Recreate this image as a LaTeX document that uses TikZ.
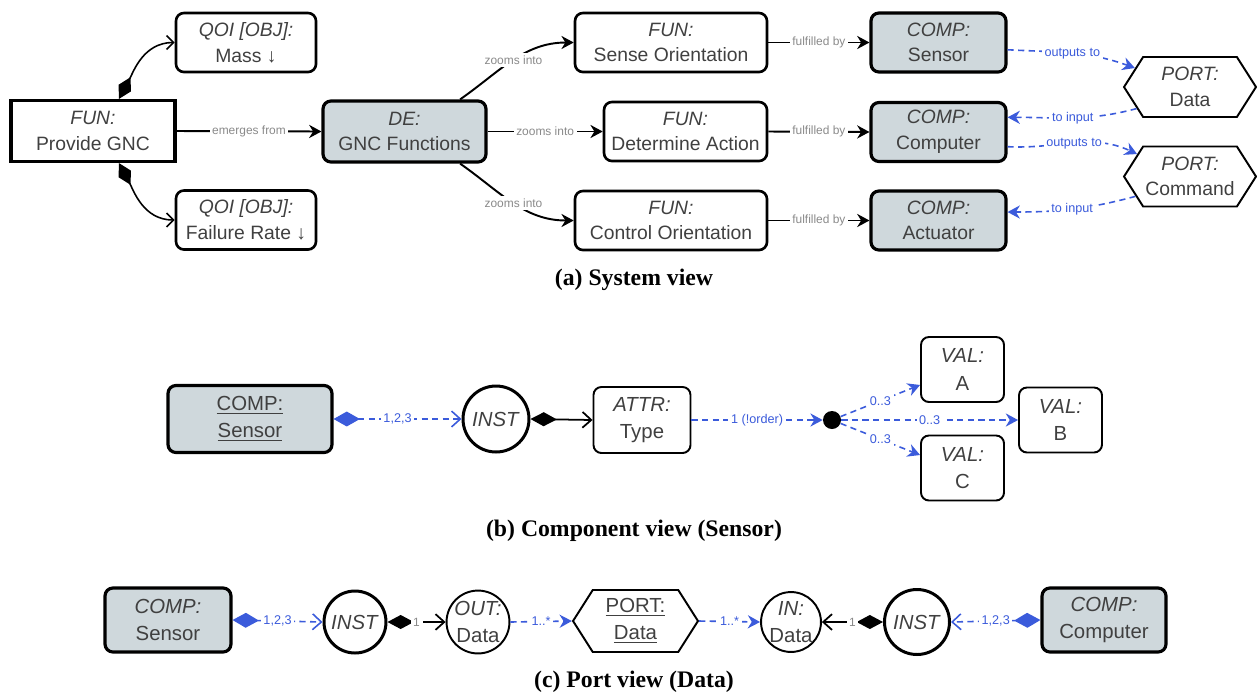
\documentclass[tikz,border=0pt]{standalone}
\usepackage{fontspec}
\setmainfont{Liberation Sans}
\newfontfamily\capfont{Liberation Serif}
\usetikzlibrary{arrows.meta,shapes.symbols}

\definecolor{compfill}{HTML}{CFD8DC}
\definecolor{reflink}{HTML}{3B5BDB}
\definecolor{nodetext}{HTML}{404040}
\definecolor{edgetext}{HTML}{8A8A8A}

\tikzset{
  elem/.style={draw, rounded corners=4.5pt, line width=1.5pt, align=center,
    text=nodetext, inner sep=0pt, font=\fontsize{11}{14.6}\selectfont},
  comp/.style={elem, fill=compfill, line width=1.8pt},
  topfun/.style={elem, sharp corners, line width=1.8pt},
  port/.style={elem, sharp corners, shape=signal, signal to=east and west,
    signal pointer angle=115, line width=1.1pt},
  inst/.style={elem, circle, line width=1.7pt},
  pin/.style={elem, circle, line width=1.1pt},
  bview/.style={font=\fontsize{11.6}{15.6}\selectfont},
  rel/.style={line width=1.1pt, -{Stealth[length=7pt,width=7.5pt]}},
  qoi/.style={line width=0.9pt, {Diamond[length=14pt,width=8pt]}-{Straight Barb[length=4pt,width=8pt]}},
  io/.style={reflink, line width=0.9pt, dash pattern=on 3.5pt off 2.5pt, -{Stealth[length=7pt,width=7.5pt]}},
  owned/.style={line width=1pt, {Diamond[length=15pt,width=8pt]}-{Straight Barb[length=5pt,width=9pt]}},
  typed/.style={io, {Diamond[length=15pt,width=8.5pt]}-{Straight Barb[length=5pt,width=9pt]}},
  rellbl/.style={fill=white, inner sep=1.5pt, text=edgetext, font=\fontsize{6.8}{8}\selectfont},
  iolbl/.style={rellbl, text=reflink, font=\fontsize{7.2}{8}\selectfont},
  caption/.style={font=\capfont\bfseries\fontsize{13.5}{16}\selectfont}
}

\begin{document}
\begin{tikzpicture}[x=0.02cm,y=-0.02cm]
  \useasboundingbox (0,0) rectangle (1257,694);

  % system view
  \node[topfun, minimum width=3.28cm, minimum height=1.22cm] (fgnc) at (93,131) {\textit{FUN:}\\Provide GNC};
  \node[elem, minimum width=2.8cm, minimum height=1.18cm] (qmass) at (246,42.5) {\textit{QOI [OBJ]:}\\Mass ↓};
  \node[elem, minimum width=2.8cm, minimum height=1.18cm] (qfail) at (246,220) {\textit{QOI [OBJ]:}\\Failure Rate ↓};
  \node[comp, minimum width=3.26cm, minimum height=1.22cm] (de) at (404.5,131.5) {\textit{DE:}\\GNC Functions};
  \node[elem, minimum width=3.84cm, minimum height=1.18cm] (fsense) at (671,42.5) {\textit{FUN:}\\Sense Orientation};
  \node[elem, minimum width=3.26cm, minimum height=1.18cm] (fdet) at (685.5,131.5) {\textit{FUN:}\\Determine Action};
  \node[elem, minimum width=3.84cm, minimum height=1.18cm] (fctrl) at (671,220.5) {\textit{FUN:}\\Control Orientation};
  \node[comp, minimum width=2.7cm, minimum height=1.18cm] (csensor) at (938.5,42.5) {\textit{COMP:}\\Sensor};
  \node[comp, minimum width=2.7cm, minimum height=1.18cm] (ccomp) at (938.5,132) {\textit{COMP:}\\Computer};
  \node[comp, minimum width=2.7cm, minimum height=1.18cm] (cact) at (938.5,220.5) {\textit{COMP:}\\Actuator};
  \node[port, minimum width=2.64cm, minimum height=1.2cm] (pdata) at (1190,87) {\textit{PORT:}\\Data};
  \node[port, minimum width=2.64cm, minimum height=1.2cm] (pcmd) at (1190,176.5) {\textit{PORT:}\\Command};

  \draw[qoi] (fgnc.51) to[out=62,in=180] (qmass.west);
  \draw[qoi] (fgnc.-51) to[out=-62,in=180] (qfail.west);
  \draw[rel] (fgnc.east) -- node[rellbl] {emerges from} (de.west);
  \draw[rel] (de.30) to[out=35,in=180] node[rellbl] {zooms into} (fsense.west);
  \draw[rel] (de.east) -- node[rellbl] {zooms into} (fdet.west);
  \draw[rel] (de.-30) to[out=-35,in=180] node[rellbl] {zooms into} (fctrl.west);
  \draw[rel] (fsense.east) -- node[rellbl] {fulfilled by} (csensor.west);
  \draw[rel] (fdet.east) -- node[rellbl] {fulfilled by} (ccomp.west);
  \draw[rel] (fctrl.east) -- node[rellbl] {fulfilled by} (cact.west);
  \draw[io] (csensor.-6) to[out=-3,in=160] node[iolbl] {outputs to} (pdata.161);
  \draw[io] (pdata.202) to[out=195,in=0] node[iolbl] {to input} (ccomp.12);
  \draw[io] (ccomp.-12) to[out=-3,in=155] node[iolbl] {outputs to} (pcmd.157);
  \draw[io] (pcmd.200) to[out=195,in=0] node[iolbl] {to input} (cact.7);

  \node[caption] (capa) at (634,280) {(a) System view};

  % component view
  \node[comp, bview, minimum width=3.28cm, minimum height=1.34cm] (bsensor) at (250,419) {\underline{COMP:}\\\underline{Sensor}};
  \node[inst, bview, minimum size=1.32cm] (binst) at (496,419) {\textit{INST}};
  \node[elem, bview, line width=1.1pt, minimum width=1.94cm, minimum height=1.32cm] (battr) at (642,420) {\textit{ATTR:}\\Type};
  \node[circle, fill=black, minimum size=0.36cm, inner sep=0pt] (bsel) at (832,420) {};
  \node[elem, bview, line width=1.1pt, minimum width=1.66cm, minimum height=1.3cm] (vala) at (962.5,369.5) {\textit{VAL:}\\A};
  \node[elem, bview, line width=1.1pt, minimum width=1.66cm, minimum height=1.3cm] (valb) at (1060.5,420) {\textit{VAL:}\\B};
  \node[elem, bview, line width=1.1pt, minimum width=1.66cm, minimum height=1.3cm] (valc) at (962.5,468) {\textit{VAL:}\\C};

  \draw[typed] (bsensor.east) -- node[iolbl] {1,2,3} (binst.west);
  \draw[owned] (binst.east) -- (battr.west);
  \draw[io] (battr.east) -- node[iolbl] {1 (!order)} (bsel.west);
  \draw[io] (bsel) -- node[iolbl] {0..3} (vala.200);
  \draw[io] (bsel) -- node[iolbl] {0..3} (valb.west);
  \draw[io] (bsel) -- node[iolbl] {0..3} (valc.163);

  \node[caption] (capb) at (634,531) {(b) Component view (Sensor)};

  % port view
  \node[comp, bview, minimum width=2.52cm, minimum height=1.28cm] (csens) at (168,620) {\textit{COMP:}\\Sensor};
  \node[inst, bview, minimum size=1.24cm] (instl) at (355,622) {\textit{INST}};
  \node[pin, bview, minimum size=1.16cm] (pout) at (478,622) {\textit{OUT:}\\Data};
  \node[port, bview, minimum width=2.5cm, minimum height=1.24cm] (pport) at (635.5,621) {\underline{PORT:}\\\underline{Data}};
  \node[pin, bview, minimum size=1.18cm] (pin) at (791,622) {\textit{IN:}\\Data};
  \node[inst, bview, minimum size=1.3cm] (instr) at (917,622) {\textit{INST}};
  \node[comp, bview, minimum width=2.48cm, minimum height=1.28cm] (ccomputer) at (1104,620) {\textit{COMP:}\\Computer};

  \draw[typed] (csens.east) -- node[iolbl] {1,2,3} (instl.west);
  \draw[owned] (instl.east) -- node[rellbl] {1} (pout.west);
  \draw[io] (pout.east) -- node[iolbl] {1..*} (pport.west);
  \draw[io] (pport.east) -- node[iolbl] {1..*} (pin.west);
  \draw[owned] (instr.west) -- node[rellbl] {1} (pin.east);
  \draw[typed] (ccomputer.west) -- node[iolbl] {1,2,3} (instr.east);

  \node[caption] (capc) at (634,682) {(c) Port view (Data)};
\end{tikzpicture}
\end{document}
